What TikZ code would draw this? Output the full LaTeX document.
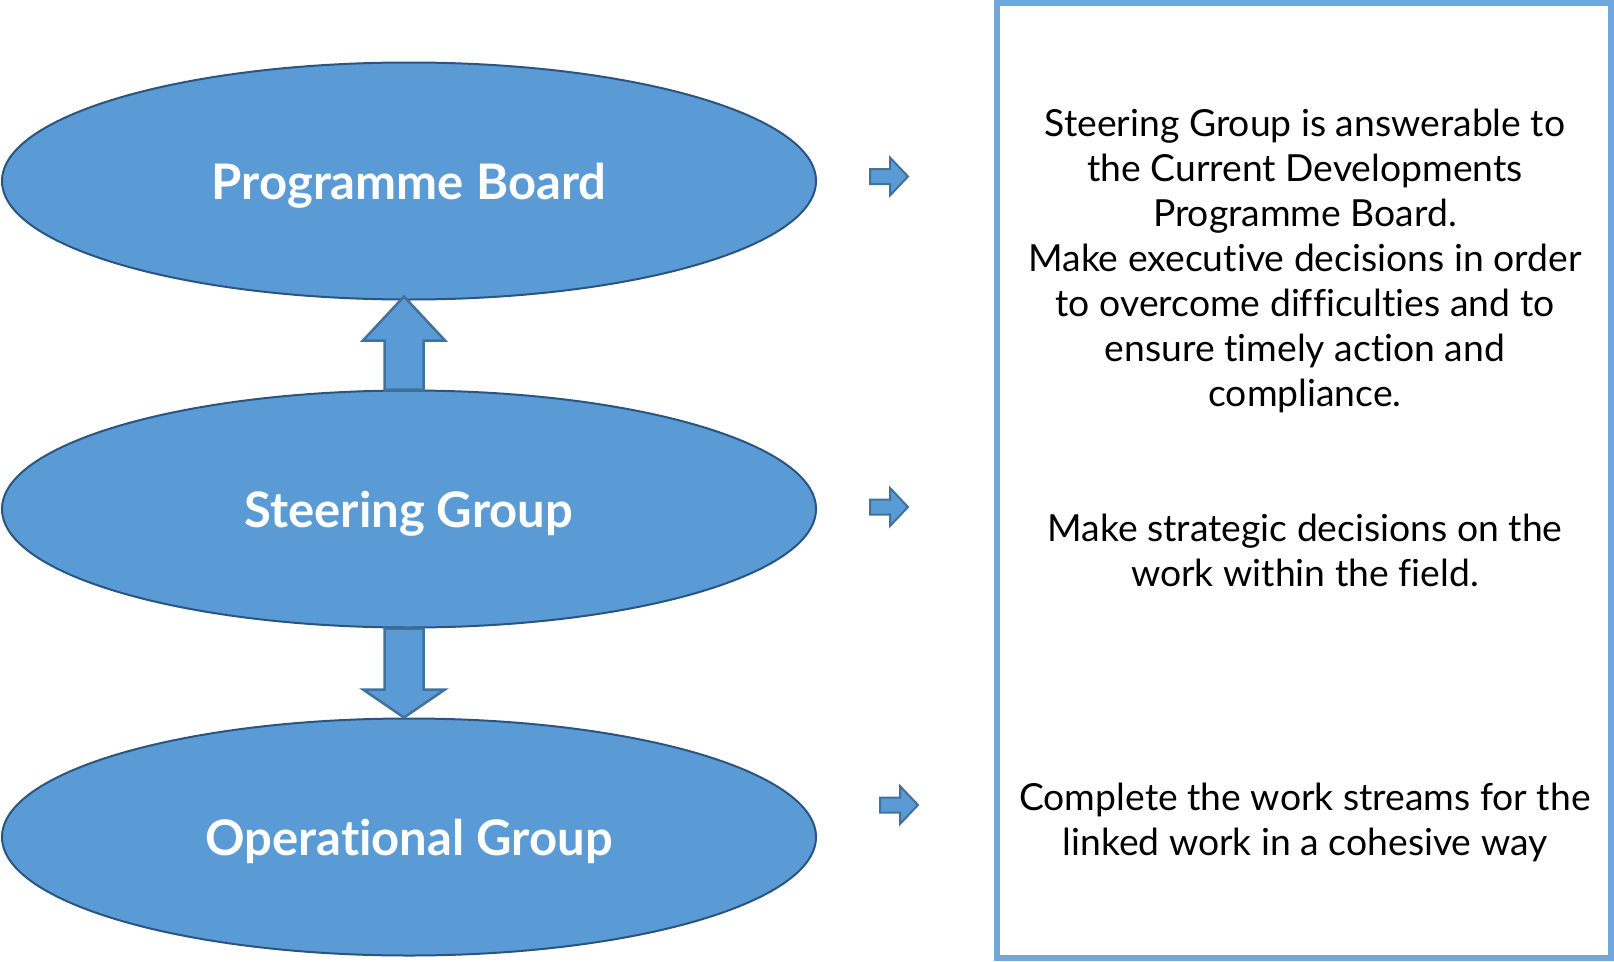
\documentclass[tikz,border=0pt]{standalone}
\usepackage{fontspec}
\setmainfont{Lato}[Ligatures=NoCommon]
\usepackage{tikz}
\usetikzlibrary{shapes.geometric, positioning, calc}

\definecolor{groupblue}{HTML}{5B9BD5}
\definecolor{groupedge}{HTML}{2A5580}
\definecolor{arrowedge}{HTML}{41719C}
\definecolor{boxblue}{HTML}{6FA8DC}

\tikzset{
    group/.style={ellipse, draw=groupedge, line width=2pt, fill=groupblue,
        minimum width=814pt, minimum height=237pt, inner sep=0pt, text depth=0pt,
        text=white, font=\fontsize{49}{58}\bfseries\selectfont},
    blockarrow/.style={draw=arrowedge, line width=2.5pt, fill=groupblue, line join=miter},
    infobox/.style={draw=boxblue, line width=6pt, minimum width=614pt, minimum height=955pt},
    infotext/.style={align=center, font=\fontsize{37.3}{45}\selectfont}
}

\begin{document}
\begin{tikzpicture}[x=1pt,y=-1pt]
    \useasboundingbox (0,0) rectangle (1614,961);

    % the three groups
    \node[group] (board) at (409,181) {Programme Board};
    \node[group] (steer) at (409,509) {Steering Group};
    \node[group] (op) at (409,837) {Operational Group};

    % block arrows between the groups
    \draw[blockarrow] let \p1=([xshift=-5pt]steer.north), \p2=([xshift=-5pt]board.south) in
        (\x1-19.5pt,\y1) -- (\x1-19.5pt,\y2-40pt) -- (\x1-41pt,\y2-40pt) -- (\x2,\y2+4pt)
        -- (\x1+41pt,\y2-40pt) -- (\x1+19.5pt,\y2-40pt) -- (\x1+19.5pt,\y1) -- cycle;
    \draw[blockarrow] let \p1=([xshift=-5pt]steer.south), \p2=([xshift=-5pt]op.north) in
        (\x1-19.5pt,\y1) -- (\x1-19.5pt,\y2+28pt) -- (\x1-41pt,\y2+28pt) -- (\x2,\y2)
        -- (\x1+41pt,\y2+28pt) -- (\x1+19.5pt,\y2+28pt) -- (\x1+19.5pt,\y1) -- cycle;

    % small arrows
    \foreach \x/\y in {870/176.5, 870/507, 880/805}
        \draw[blockarrow, line width=2pt] (\x,\y-7.5) -- (\x+20,\y-7.5) -- (\x+20,\y-19) -- (\x+38,\y)
            -- (\x+20,\y+19) -- (\x+20,\y+7.5) -- (\x,\y+7.5) -- cycle;

    % description box
    \node[infobox] (info) at (1304,480.5) {};
    \node[infotext] (boardtext) at (1305,261) {Steering Group is answerable to\\the Current Developments\\Programme Board.\\Make executive decisions in order\\to overcome difficulties and to\\ensure timely action and\\compliance.};
    \node[infotext] (steertext) at (1305,550) {Make strategic decisions on the\\work within the field.};
    \node[infotext] (optext) at (1305,822) {Complete the work streams for the\\linked work in a cohesive way};
\end{tikzpicture}
\end{document}
